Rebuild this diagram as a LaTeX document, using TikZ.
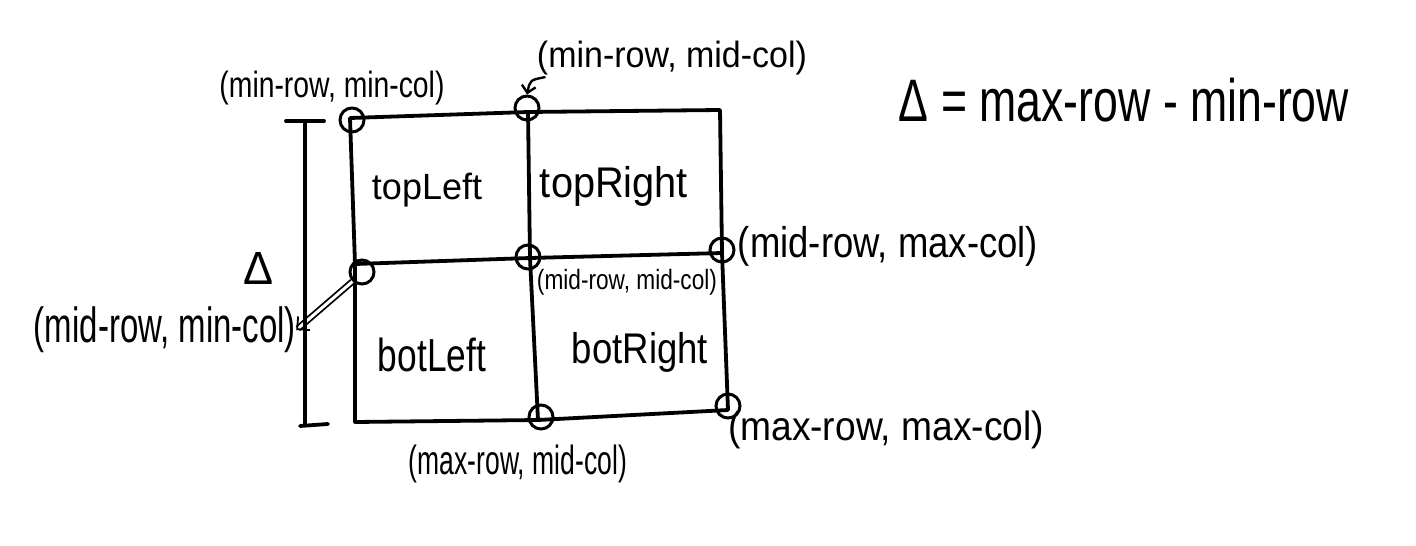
\documentclass[tikz,border=0pt]{standalone}
\usepackage{fontspec}
\setmainfont{Liberation Sans}
\usepackage{graphicx}
\usetikzlibrary{arrows.meta}
\newcommand{\fitw}[3]{\resizebox*{#1pt}{#2pt}{#3}}
\begin{document}
\begin{tikzpicture}[x=1pt,y=-1pt,
  ink/.style={line width=3.8pt,line cap=round,line join=round},
  pt/.style={circle,draw,line width=3pt,minimum width=24pt,minimum height=20pt,inner sep=0pt},
  lbl/.style={inner sep=0pt,anchor=center}]
\useasboundingbox (0,0) rectangle (1416,546);
% grid corners
\coordinate (tl) at (350,118);
\coordinate (tm) at (528,112);
\coordinate (tr) at (720,110);
\coordinate (ml) at (355,264);
\coordinate (mm) at (530,258);
\coordinate (mr) at (722,253);
\coordinate (bl) at (355,422);
\coordinate (bm) at (538,420);
\coordinate (br) at (728,410);
% grid lines
\draw[ink] (tl) -- (tm) -- (tr) -- (mr) -- (br) -- (bm) -- (bl) -- (ml) -- cycle;
\draw[ink] (ml) -- (mm) -- (mr);
\draw[ink] (tm) -- (mm) -- (bm);
% points
\node[pt] (p1) at (352,120) {};
\node[pt] (p2) at (527,108) {};
\node[pt] (p3) at (362,272) {};
\node[pt] (p4) at (528,257) {};
\node[pt] (p5) at (722,250) {};
\node[pt] (p6) at (541,417) {};
\node[pt] (p7) at (728,406) {};
% cell labels
\node[lbl] (ctl) at (427,190) {\fitw{110}{34}{topLeft}};
\node[lbl] (ctr) at (614,186) {\fitw{148}{40}{topRight}};
\node[lbl] (cbl) at (432,355) {\fitw{108}{34}{botLeft}};
\node[lbl] (cbr) at (640,352) {\fitw{136}{40}{botRight}};
% point labels
\node[lbl] (l1) at (332,88) {\fitw{225}{34}{(min-row, min-col)}};
\node[lbl] (l2) at (672,58) {\fitw{270}{34}{(min-row, mid-col)}};
\node[lbl] (l4) at (627,282) {\fitw{180}{26}{(mid-row, mid-col)}};
\node[lbl] (l5) at (888,246) {\fitw{300}{40}{(mid-row, max-col)}};
\node[lbl] (l3) at (165,330) {\fitw{262}{46}{(mid-row, min-col)}};
\node[lbl] (l6) at (518,464) {\fitw{218}{38}{(max-row, mid-col)}};
\node[lbl] (l7) at (886,430) {\fitw{316}{38}{(max-row, max-col)}};
\node[lbl] (eq) at (1124,100) {\fitw{450}{44}{Δ = max-row - min-row}};
% arrows
\draw[ink,line width=2.4pt,-{Straight Barb[length=7pt]}] (l2.south west) ++(8,2) .. controls (530,80) .. (p2.north);
\draw[line width=1.8pt,double,double distance=3pt,-{Straight Barb[length=9pt]}] (p3.south west) -- (l3.east);
% delta dimension
\coordinate (dt) at (305,121);
\coordinate (db) at (305,425);
\draw[ink] (dt) -- (db);
\draw[ink] (286,121) -- (324,121);
\draw[ink] (300,426) -- (328,424);
\node[lbl] (dl) at (258,268) {\fitw{30}{32}{Δ}};
\end{tikzpicture}
\end{document}
